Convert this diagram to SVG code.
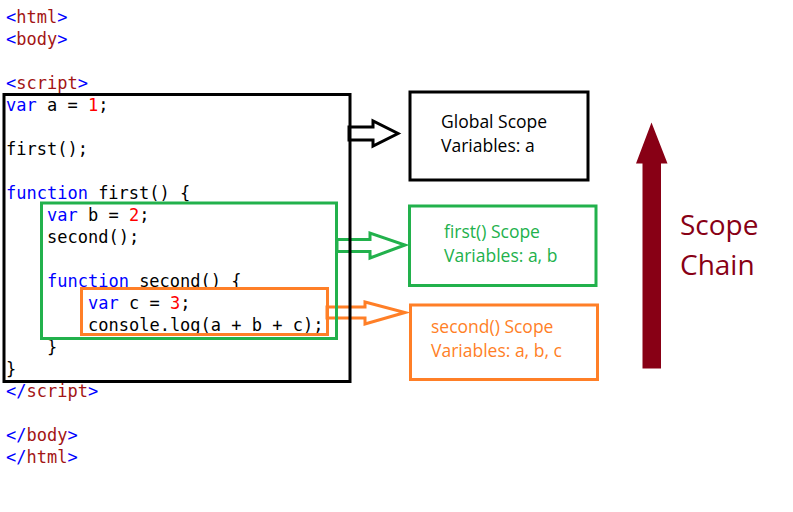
<svg xmlns="http://www.w3.org/2000/svg" width="793" height="512" viewBox="0 0 793 512">
<style>
.code{font-family:"DejaVu Sans Mono","Liberation Mono",monospace;font-size:17px;fill:#000}
.t{fill:#0000ff}
.n{fill:#a31515}
.k{fill:#0000ff}
.num{fill:#ff0000}
.lbl{font-family:"Open Sans","Noto Sans","Liberation Sans",sans-serif;font-size:17.5px}
.box{fill:none;stroke-width:3}
</style>
<rect width="793" height="512" fill="#fff"/>
<g id="code" class="code" transform="translate(0,1.5)">
<text x="6" y="21"><tspan class="t">&lt;</tspan><tspan class="n">html</tspan><tspan class="t">&gt;</tspan></text>
<text x="6" y="43"><tspan class="t">&lt;</tspan><tspan class="n">body</tspan><tspan class="t">&gt;</tspan></text>
<text x="6" y="87"><tspan class="t">&lt;</tspan><tspan class="n">script</tspan><tspan class="t">&gt;</tspan></text>
<text x="6" y="109"><tspan class="k">var</tspan> a = <tspan class="num">1</tspan>;</text>
<text x="6" y="153">first();</text>
<text x="6" y="197"><tspan class="k">function</tspan> first() {</text>
<text x="47" y="219"><tspan class="k">var</tspan> b = <tspan class="num">2</tspan>;</text>
<text x="47" y="241">second();</text>
<text x="47" y="285"><tspan class="k">function</tspan> second() {</text>
<text x="88" y="307"><tspan class="k">var</tspan> c = <tspan class="num">3</tspan>;</text>
<text x="88" y="329">console.log(a + b + c);</text>
<text x="47" y="351">}</text>
<text x="6" y="373">}</text>
<text x="6" y="395"><tspan class="t">&lt;/</tspan><tspan class="n">script</tspan><tspan class="t">&gt;</tspan></text>
<text x="6" y="439"><tspan class="t">&lt;/</tspan><tspan class="n">body</tspan><tspan class="t">&gt;</tspan></text>
<text x="6" y="461"><tspan class="t">&lt;/</tspan><tspan class="n">html</tspan><tspan class="t">&gt;</tspan></text>
</g>
<g id="connectors" fill="none" stroke-width="3" stroke-linejoin="miter">
<polygon points="349,127 373,127 373,121 398,133.5 373,146 373,140 349,140" stroke="#000"/>
<polygon points="337,239.5 370,239.5 370,233 405,245 370,258 370,251.5 337,251.5" stroke="#22b14c"/>
<polygon points="327,307 365,307 365,302 405,312.5 365,324 365,318 327,318" stroke="#ff7f27"/>
</g>
<g id="global-block"><rect class="box" x="4" y="94.5" width="346" height="287" stroke="#000"/></g>
<g id="first-block"><rect class="box" x="41.5" y="203" width="295" height="135.5" stroke="#22b14c"/></g>
<g id="second-block"><rect class="box" x="81.5" y="288.5" width="246" height="46" stroke="#ff7f27"/></g>
<g id="global-scope">
<rect class="box" x="410" y="92" width="178" height="88" stroke="#000"/>
<text class="lbl" x="441" y="128" fill="#000">Global Scope</text>
<text class="lbl" x="441" y="152" fill="#000">Variables: a</text>
</g>
<g id="first-scope">
<rect class="box" x="409.5" y="206" width="186.5" height="79.5" stroke="#22b14c"/>
<text class="lbl" x="444" y="238" fill="#22b14c">first() Scope</text>
<text class="lbl" x="444" y="262" fill="#22b14c">Variables: a, b</text>
</g>
<g id="second-scope">
<rect class="box" x="410.5" y="305" width="187" height="74.5" stroke="#ff7f27"/>
<text class="lbl" x="431" y="333" fill="#ff7f27">second() Scope</text>
<text class="lbl" x="431" y="357" fill="#ff7f27">Variables: a, b, c</text>
</g>
<g id="scope-chain">
<polygon points="651.5,122.5 667.5,163.5 661,163.5 661,368.5 642.5,368.5 642.5,163.5 636,163.5" fill="#880015"/>
<text x="680" y="235" font-family="'Open Sans','Noto Sans','Liberation Sans',sans-serif" font-size="28" fill="#880015">Scope</text>
<text x="680" y="275" font-family="'Open Sans','Noto Sans','Liberation Sans',sans-serif" font-size="28" fill="#880015">Chain</text>
</g>
</svg>
